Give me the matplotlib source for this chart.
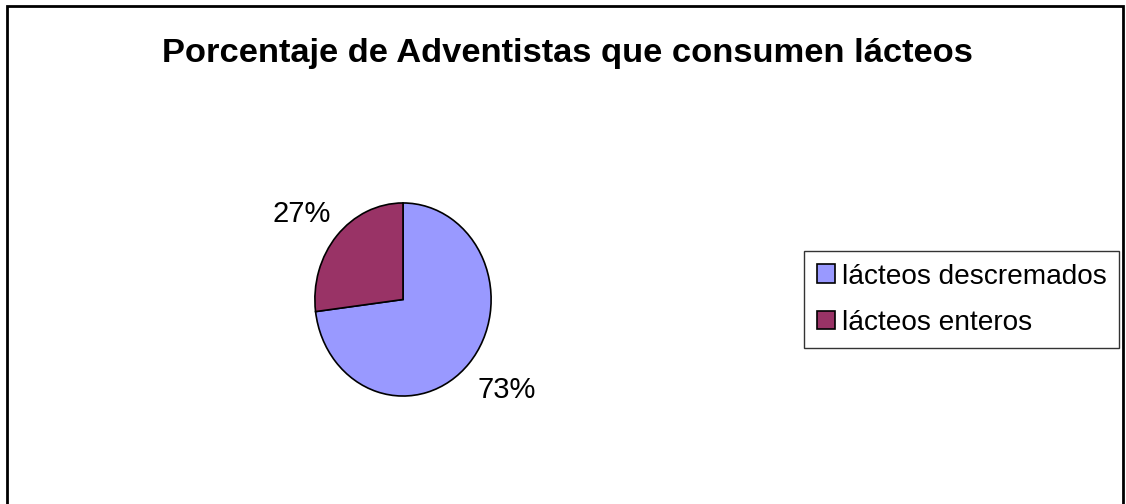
import matplotlib.pyplot as plt
from matplotlib.patches import Rectangle
from matplotlib.transforms import offset_copy

categorias = ["lácteos descremados", "lácteos enteros"]
porcentajes = [73, 27]
colores = ["#9999FF", "#993366"]
titulo = "Porcentaje de Adventistas que consumen lácteos"

plt.rcParams['font.family'] = ['Liberation Sans', 'DejaVu Sans']

W, H = 1126, 504
fig = plt.figure(figsize=(W/100, H/100), dpi=100)
# marco exterior del grafico
fig.patches.append(Rectangle((7/W, -0.05), (1123-7)/W, 1.05 - 6/H,
                             transform=fig.transFigure, fill=False,
                             edgecolor='black', linewidth=2))

fig.text(0.5 + 4.5/W, 1 - 62/H, titulo, ha='center', va='baseline',
         fontsize=24.8, fontweight='bold')

ax = fig.add_axes([314/W, (H-397)/H, 178/W, 195/H])
wedges, textos = ax.pie(porcentajes, colors=colores, startangle=90, counterclock=False,
                        labels=[f"{p}%" for p in porcentajes], labeldistance=1.47,
                        wedgeprops=dict(edgecolor='black', linewidth=1.2),
                        textprops=dict(fontsize=21))
# pequeños ajustes de posicion de las etiquetas (en pixeles)
ajustes = [(7, 3), (-4, -8)]
for t, (dx, dy) in zip(textos, ajustes):
    t.set_ha('center')
    t.set_va('center')
    t.set_transform(offset_copy(ax.transData, fig=fig, x=dx, y=dy, units='dots'))
ax.set_aspect('auto')
ax.set_xlim(-1.01, 1.01)
ax.set_ylim(-1.01, 1.01)

leg = fig.legend(wedges, categorias, loc='upper left',
                 bbox_to_anchor=(804/W, 1 - 251/H), fontsize=20.2,
                 frameon=True, fancybox=False, edgecolor='black',
                 handlelength=0.64, handleheight=0.64, handletextpad=0.26,
                 borderpad=0.45, labelspacing=0.72, borderaxespad=0)
leg.get_frame().set_linewidth(1)

fig.savefig("out.png", dpi=100, facecolor='white')
